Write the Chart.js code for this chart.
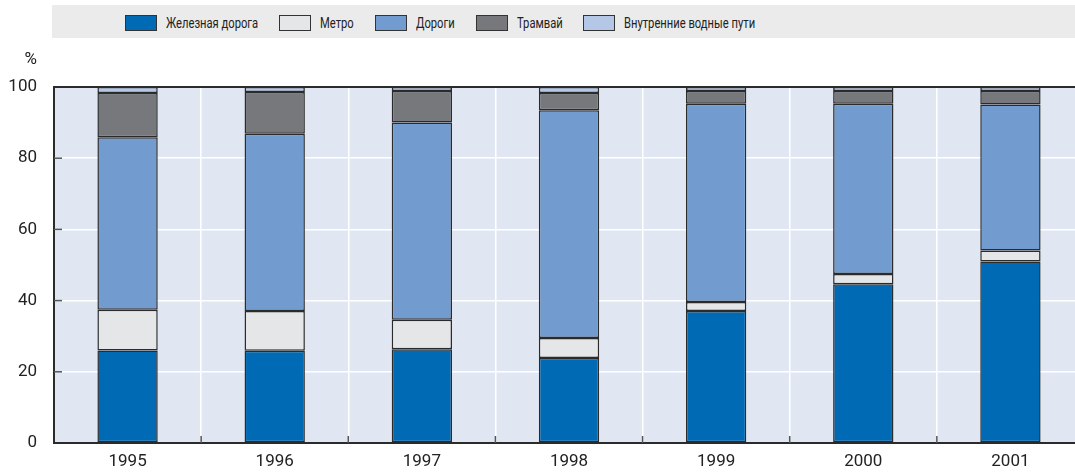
<!DOCTYPE html>
<html>
<head>
<meta charset="utf-8">
<script src="https://cdn.jsdelivr.net/npm/chart.js@4.4.0/dist/chart.umd.min.js"></script>
<style>
    html, body { margin: 0; padding: 0; overflow: hidden; background: #fff; width: 1075px; height: 472px; }
    #wrap { position: absolute; left: 0; top: 0; width: 1084px; height: 472px; }
    #legend {
        position: absolute; left: 52px; top: 5px; width: 1023px; height: 33px;
        background: #ebebeb; display: flex; align-items: center; padding-left: 73px; box-sizing: border-box;
        font-family: Roboto, "DejaVu Sans", sans-serif; font-size: 14px; color: #222;
    }
    #legend .item { display: flex; align-items: center; margin-right: 21px; padding-top: 2px; }
    #legend .box { width: 32px; height: 16px; border: 1px solid #333; margin-right: 9px; box-sizing: border-box; }
    #legend .txt { display: inline-block; transform: scaleX(0.8); transform-origin: left center; white-space: nowrap; }
</style>
</head>
<body>
<div id="wrap"><canvas id="myChart" width="1084" height="472"></canvas></div>
<div id="legend"></div>
<script>
// Données (% du total)
const annees = ['1995', '1996', '1997', '1998', '1999', '2000', '2001'];
const nomsSeries = ['Железная дорога', 'Метро', 'Дороги', 'Трамвай', 'Внутренние водные пути'];
const ferroviaire = [26.0, 25.9, 26.3, 23.9, 37.1, 44.6, 51.0];
const metro = [11.4, 11.2, 8.3, 5.6, 2.5, 2.9, 3.1];
const routes = [48.5, 49.8, 55.4, 64.0, 55.7, 47.8, 41.0];
const tramway = [12.4, 11.7, 8.9, 4.8, 3.6, 3.6, 3.8];
const voiesEau = [1.7, 1.4, 1.1, 1.7, 1.1, 1.1, 1.1];
const ticksY = [0, 20, 40, 60, 80, 100];

const couleurs = ['#006ab4', '#e5e6e7', '#729bd0', '#77787c', '#b4c7e7'];
const valeurs = [ferroviaire, metro, routes, tramway, voiesEau];

const police = 'Roboto, "Liberation Sans", sans-serif';

// Fond du graphique + petites graduations vers l'intérieur
const fondPlugin = {
    id: 'fond',
    beforeDraw(chart) {
        const { ctx, chartArea } = chart;
        ctx.save();
        ctx.fillStyle = '#e1e7f2';
        ctx.fillRect(chartArea.left, chartArea.top, chartArea.right - chartArea.left, chartArea.bottom - chartArea.top);
        ctx.restore();
    },
    afterDraw(chart) {
        const { ctx, chartArea, scales } = chart;
        ctx.save();
        ctx.strokeStyle = '#555';
        ctx.lineWidth = 1.5;
        // graduations axe Y
        ticksY.slice(1, -1).forEach(v => {
            const y = scales.y.getPixelForValue(v);
            ctx.beginPath();
            ctx.moveTo(chartArea.left, y);
            ctx.lineTo(chartArea.left + 8, y);
            ctx.stroke();
        });
        // graduations axe X entre les catégories
        for (let i = 1; i < annees.length; i++) {
            const x = (scales.x.getPixelForValue(i - 1) + scales.x.getPixelForValue(i)) / 2;
            ctx.beginPath();
            ctx.moveTo(x, chartArea.bottom);
            ctx.lineTo(x, chartArea.bottom - 7);
            ctx.stroke();
        }
        // unité
        ctx.fillStyle = '#222';
        ctx.font = '17px ' + police;
        ctx.textAlign = 'right';
        ctx.textBaseline = 'middle';
        ctx.fillText('%', 37, chartArea.top - 27);
        ctx.restore();
    }
};

const datasets = nomsSeries.map((nom, i) => ({
    label: nom,
    data: valeurs[i],
    backgroundColor: couleurs[i],
    borderColor: '#2b2b2b',
    borderWidth: 1.5,
    borderSkipped: false,
    categoryPercentage: 1,
    barPercentage: 0.41
}));

const config = {
    type: 'bar',
    data: { labels: annees, datasets },
    options: {
        responsive: false,
        animation: false,
        layout: { padding: { top: 87, left: 0, right: 0, bottom: 0 } },
        scales: {
            x: {
                stacked: true,
                grid: { offset: true, color: '#ffffff', lineWidth: 1.5, drawTicks: false },
                border: { color: '#2b2b2b', width: 2 },
                ticks: { color: '#222', font: { family: police, size: 17 }, padding: 9 },
                afterFit(scale) { scale.height = 29; }
            },
            y: {
                stacked: true,
                min: 0,
                max: 100,
                afterBuildTicks(scale) { scale.ticks = ticksY.map(v => ({ value: v })); },
                grid: {
                    color: c => (c.tick && c.tick.value === 100) ? '#2b2b2b' : '#ffffff',
                    lineWidth: c => (c.tick && c.tick.value === 100) ? 2 : 1.5,
                    drawTicks: false
                },
                border: { color: '#2b2b2b', width: 2 },
                ticks: { color: '#222', font: { family: police, size: 17 }, padding: 17 },
                afterFit(scale) { scale.width = 54; }
            }
        },
        plugins: {
            legend: { display: false },
            tooltip: { enabled: false }
        }
    },
    plugins: [fondPlugin]
};

const ctx = document.getElementById('myChart').getContext('2d');
const chart = new Chart(ctx, config);

// Légende HTML construite à partir des datasets
function remplirLegende() {
    const conteneur = document.getElementById('legend');
    let html = '';
    chart.data.datasets.forEach(ds => {
        html += `<div class="item"><span class="box" style="background:${ds.backgroundColor}"></span><span class="txt">${ds.label}</span></div>`;
    });
    conteneur.innerHTML = html;
    // texte condensé : on retire la place perdue par le scaleX
    conteneur.querySelectorAll('.txt').forEach(el => {
        el.style.marginRight = (-0.2 * el.offsetWidth) + 'px';
    });
}
remplirLegende();
</script>
</body>
</html>
